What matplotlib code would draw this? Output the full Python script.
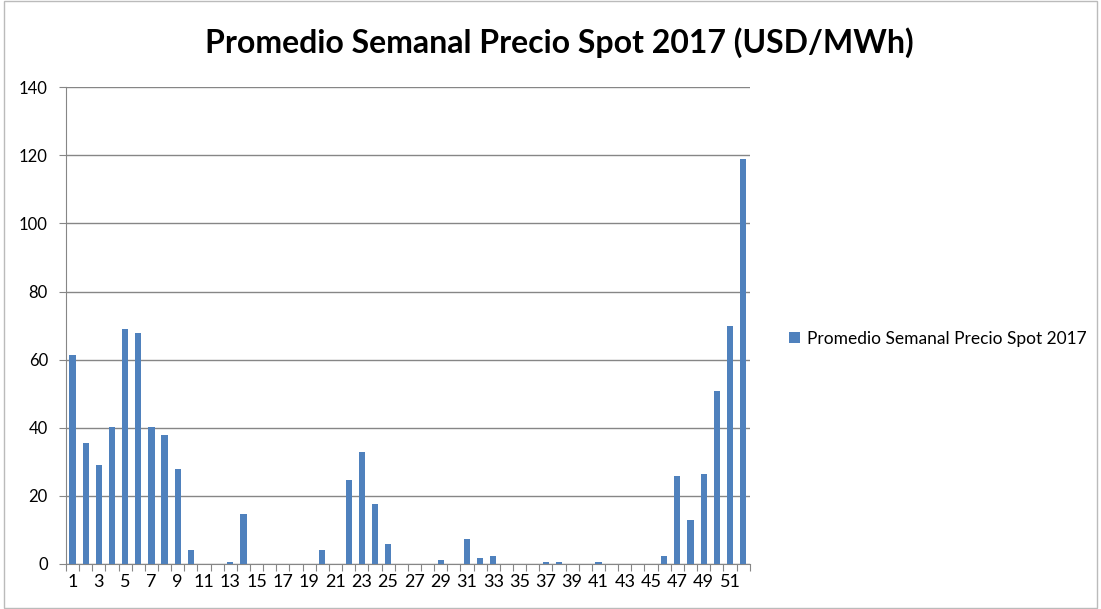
import matplotlib
matplotlib.use('Agg')
import matplotlib.pyplot as plt
import numpy as np

# weekly average spot price 2017
weeks = list(range(1, 53))
precio = [61.3, 35.5, 29.0, 40.2, 69.0, 67.8, 40.2, 37.9, 27.9, 4.1,
          0.0, 0.0, 0.5, 14.7, 0.0, 0.0, 0.0, 0.0, 0.0, 4.1,
          0.0, 24.7, 32.9, 17.6, 5.9, 0.0, 0.0, 0.0, 1.1, 0.0,
          7.2, 1.7, 2.4, 0.0, 0.0, 0.0, 0.5, 0.6, 0.0, 0.0,
          0.6, 0.0, 0.0, 0.0, 0.0, 2.4, 25.9, 12.9, 26.3, 50.8,
          69.9, 119.0]
serie = 'Promedio Semanal Precio Spot 2017'
titulo = 'Promedio Semanal Precio Spot 2017 (USD/MWh)'
y_ticks = [0, 20, 40, 60, 80, 100, 120, 140]

plt.rcParams['font.family'] = ['Lato', 'DejaVu Sans']
grey = '#868686'

fig = plt.figure(figsize=(11.01, 6.09), dpi=100)
ax = fig.add_axes([0.0599, 0.0739, 0.621, 0.783])

ax.bar(weeks, precio, width=0.47, color='#4F81BD', label=serie, zorder=3)

ax.set_xlim(0.5, 52.5)
ax.set_ylim(0, 140)
ax.set_yticks(y_ticks)
ax.grid(axis='y', color=grey, linewidth=1, zorder=0)
ax.tick_params(axis='y', length=5, color=grey, labelsize=12, pad=8)

# tick marks between categories, labels on odd weeks
ax.set_xticks(np.arange(0.5, 53, 1))
ax.set_xticklabels([])
ax.tick_params(axis='x', which='major', length=5, color=grey)
ax.set_xticks(weeks[::2], minor=True)
ax.set_xticklabels([str(w) for w in weeks[::2]], minor=True)
ax.tick_params(axis='x', which='minor', length=0, labelsize=13, pad=7)

for s in ['top', 'right']:
    ax.spines[s].set_visible(False)
for s in ['left', 'bottom']:
    ax.spines[s].set_color(grey)

fig.suptitle(titulo, fontsize=23, fontweight='bold', x=0.508, y=0.955)

ax.legend(loc='center left', bbox_to_anchor=(1.035, 0.472), frameon=False,
          fontsize=12.5, handlelength=0.6, handleheight=0.6, handletextpad=0.4)

fig.add_artist(plt.Rectangle((0.004, 0.002), 0.992, 0.996, transform=fig.transFigure,
                             fill=False, edgecolor='#BBBBBB', linewidth=1))

fig.savefig('out.png', dpi=100)
